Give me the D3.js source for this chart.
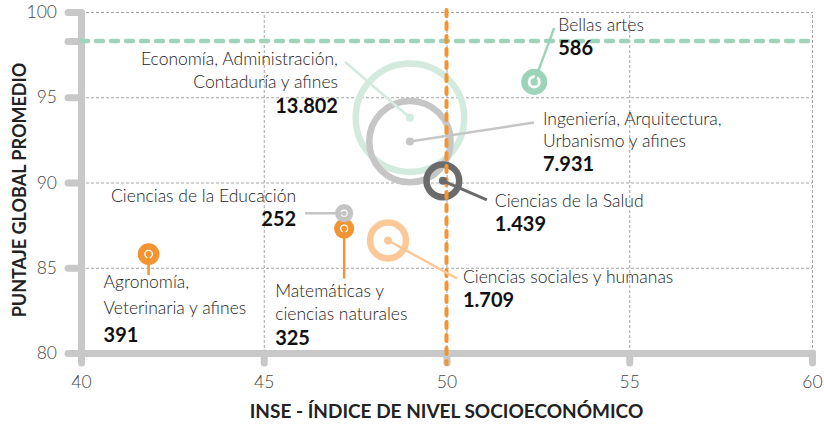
<!DOCTYPE html>
<html>
<head>
    <meta charset="utf-8">
    <title>Puntaje vs INSE</title>
    <script src="https://cdnjs.cloudflare.com/ajax/libs/d3/7.8.5/d3.min.js"></script>
    <style>
        body { margin: 0; background: #fff; }
        text { font-family: Lato, "Open Sans", sans-serif; }
        .lbl { font-weight: 300; font-size: 17.5px; fill: #222; }
        .num { font-weight: 700; font-size: 20px; fill: #111; }
        .tick text { font-weight: 300; font-size: 17.5px; fill: #444; }
        .title { font-weight: 700; fill: #222; }
    </style>
</head>
<body>
<script>
// datos
var categorias = ["Economía, Administración, Contaduría y afines",
    "Ingeniería, Arquitectura, Urbanismo y afines",
    "Ciencias de la Salud",
    "Ciencias sociales y humanas",
    "Bellas artes",
    "Ciencias de la Educación",
    "Matemáticas y ciencias naturales",
    "Agronomía, Veterinaria y afines"];
var inse = [49.0, 49.0, 49.9, 48.4, 52.4, 47.2, 47.2, 41.85];
var puntaje = [93.8, 92.4, 90.1, 86.6, 95.9, 88.2, 87.3, 85.8];
var estudiantes = [13802, 7931, 1439, 1709, 586, 252, 325, 391];
var colores = ["#d3ebde", "#c6c6c6", "#6b6b6b", "#fcc897", "#9dd4b9", "#c4c4c4", "#f39433", "#f39433"];
var numeros = ["13.802", "7.931", "1.439", "1.709", "586", "252", "325", "391"];
var xTicks = [40, 45, 50, 55, 60];
var yTicks = [80, 85, 90, 95, 100];
var puntajeRef = 98.3;
var inseRef = 50;

// etiquetas: lineas de texto, posicion (px relativos al punto) y fin de la linea guia
var etiquetas = [
    { lines: ["Economía, Administración,", "Contaduría y afines"], anchor: "end", tx: -72, ty: -53, lx: -65, ly: -56, lh: 23 },
    { lines: ["Ingeniería, Arquitectura,", "Urbanismo y afines"], anchor: "start", tx: 133, ty: -17, lx: 124, ly: -19, lh: 22 },
    { lines: ["Ciencias de la Salud"], anchor: "start", tx: 52, ty: 26, lx: 44, ly: 19, lh: 22 },
    { lines: ["Ciencias sociales y humanas"], anchor: "start", tx: 75, ty: 43, lx: 69, ly: 38, lh: 22 },
    { lines: ["Bellas artes"], anchor: "start", tx: 24, ty: -51, lx: 20, ly: -54, lh: 22 },
    { lines: ["Ciencias de la Educación"], anchor: "end", tx: -48, ty: -11, lx: -39, ly: 0, lh: 22 },
    { lines: ["Matemáticas y", "ciencias naturales"], anchor: "start", tx: -69, ty: 68, lx: 0, ly: 50, lh: 23 },
    { lines: ["Agronomía,", "Veterinaria y afines"], anchor: "start", tx: -45, ty: 34, lx: 0, ly: 21, lh: 26 }
];

var W = 824, H = 424;
var svg = d3.select("body").append("svg").attr("width", W).attr("height", H);

var x = d3.scaleLinear().domain([40, 60]).range([81, 812]);
var y = d3.scaleLinear().domain([80, 100]).range([353, 12]);
var r = d3.scaleSqrt().domain([0, 13802]).range([0, 56]);

// rejilla
svg.append("g")
    .attr("transform", "translate(0," + y(80) + ")")
    .call(d3.axisBottom(x).tickValues(xTicks.slice(1)).tickSize(-(y(80) - y(100))).tickFormat(""))
    .call(function(g) {
        g.select(".domain").remove();
        g.selectAll("line").attr("stroke", "#a5a5a5").attr("stroke-width", 1).attr("stroke-dasharray", "3,2");
    });
svg.append("g")
    .attr("transform", "translate(" + x(40) + ",0)")
    .call(d3.axisLeft(y).tickValues(yTicks.slice(1)).tickSize(-(x(60) - x(40))).tickFormat(""))
    .call(function(g) {
        g.select(".domain").remove();
        g.selectAll("line").attr("stroke", "#a5a5a5").attr("stroke-width", 1).attr("stroke-dasharray", "3,2");
    });

// ejes
var yAxis = svg.append("g")
    .attr("transform", "translate(" + x(40) + ",0)")
    .call(d3.axisLeft(y).tickValues(yTicks.concat([puntajeRef])).tickSize(13).tickSizeOuter(0).tickPadding(11)
        .tickFormat(function(d) { return d === puntajeRef ? "" : d; }));
var xAxis = svg.append("g")
    .attr("transform", "translate(0," + y(80) + ")")
    .call(d3.axisBottom(x).tickValues(xTicks).tickSize(10).tickSizeOuter(0).tickPadding(13));

[yAxis, xAxis].forEach(function(g) {
    g.select(".domain").attr("stroke", "#c8c8c8").attr("stroke-width", 7).attr("stroke-linecap", "round");
    g.selectAll(".tick line").attr("stroke", "#c8c8c8").attr("stroke-width", 7).attr("stroke-linecap", "round");
    g.selectAll(".tick text").attr("font-family", null).attr("font-size", null);
});

// linea de referencia puntaje
svg.append("line")
    .attr("x1", x(40)).attr("x2", x(60))
    .attr("y1", y(puntajeRef)).attr("y2", y(puntajeRef))
    .attr("stroke", "#9fd3ba").attr("stroke-width", 4.5)
    .attr("stroke-dasharray", "7,8").attr("stroke-linecap", "round");

var data = categorias.map(function(c, i) {
    return { cat: c, x: inse[i], y: puntaje[i], n: estudiantes[i], color: colores[i], num: numeros[i], lab: etiquetas[i] };
});

// anillos, de mayor a menor
var orden = data.slice().sort(function(a, b) { return b.n - a.n; });
var ringSize = function(d) {
    var R = r(d.n) + 1.5;
    var sw = Math.min(6.5, R * 0.6);
    return { R: R, sw: sw, dot: Math.min(4, R * 0.28) };
};

svg.append("g").selectAll("circle").data(orden).enter().append("circle")
    .attr("cx", function(d) { return x(d.x); })
    .attr("cy", function(d) { return y(d.y); })
    .attr("r", function(d) { var s = ringSize(d); return s.R - s.sw / 2; })
    .attr("fill", "none")
    .attr("stroke", function(d) { return d.color; })
    .attr("stroke-width", function(d) { return ringSize(d).sw; });

// linea de referencia INSE
svg.append("line")
    .attr("x1", x(inseRef)).attr("x2", x(inseRef))
    .attr("y1", y(100) - 2).attr("y2", y(80) + 11)
    .attr("stroke", "#f39433").attr("stroke-width", 4)
    .attr("stroke-dasharray", "6,7").attr("stroke-linecap", "round");

// lineas guia
svg.append("g").selectAll("line").data(data).enter().append("line")
    .attr("x1", function(d) { return x(d.x); })
    .attr("y1", function(d) { return y(d.y); })
    .attr("x2", function(d) { return x(d.x) + d.lab.lx; })
    .attr("y2", function(d) { return y(d.y) + d.lab.ly; })
    .attr("stroke", function(d) { return d.color; })
    .attr("stroke-width", function(d) { return d.n > 1000 && d.n < 1500 ? 3 : 2.5; });

svg.append("g").selectAll("circle").data(data).enter().append("circle")
    .attr("cx", function(d) { return x(d.x); })
    .attr("cy", function(d) { return y(d.y); })
    .attr("r", function(d) { return ringSize(d).dot; })
    .attr("fill", function(d) { return d.color; });

// textos
var lbl = svg.append("g").selectAll("g").data(data).enter().append("g")
    .attr("transform", function(d) { return "translate(" + (x(d.x) + d.lab.tx) + "," + (y(d.y) + d.lab.ty) + ")"; })
    .attr("text-anchor", function(d) { return d.lab.anchor; });

lbl.each(function(d) {
    var g = d3.select(this);
    d.lab.lines.forEach(function(t, i) {
        g.append("text").attr("class", "lbl").attr("y", i * d.lab.lh).text(t);
    });
    g.append("text").attr("class", "num").attr("y", d.lab.lines.length * d.lab.lh + 2).text(d.num);
});

// titulos
svg.append("text").attr("class", "title")
    .attr("text-anchor", "middle").attr("font-size", 19)
    .attr("x", (x(40) + x(60)) / 2).attr("y", 418)
    .text("INSE - ÍNDICE DE NIVEL SOCIOECONÓMICO");
svg.append("text").attr("class", "title")
    .attr("text-anchor", "middle").attr("font-size", 18)
    .attr("transform", "translate(26," + 190 + ") rotate(-90)")
    .text("PUNTAJE GLOBAL PROMEDIO");
</script>
</body>
</html>
